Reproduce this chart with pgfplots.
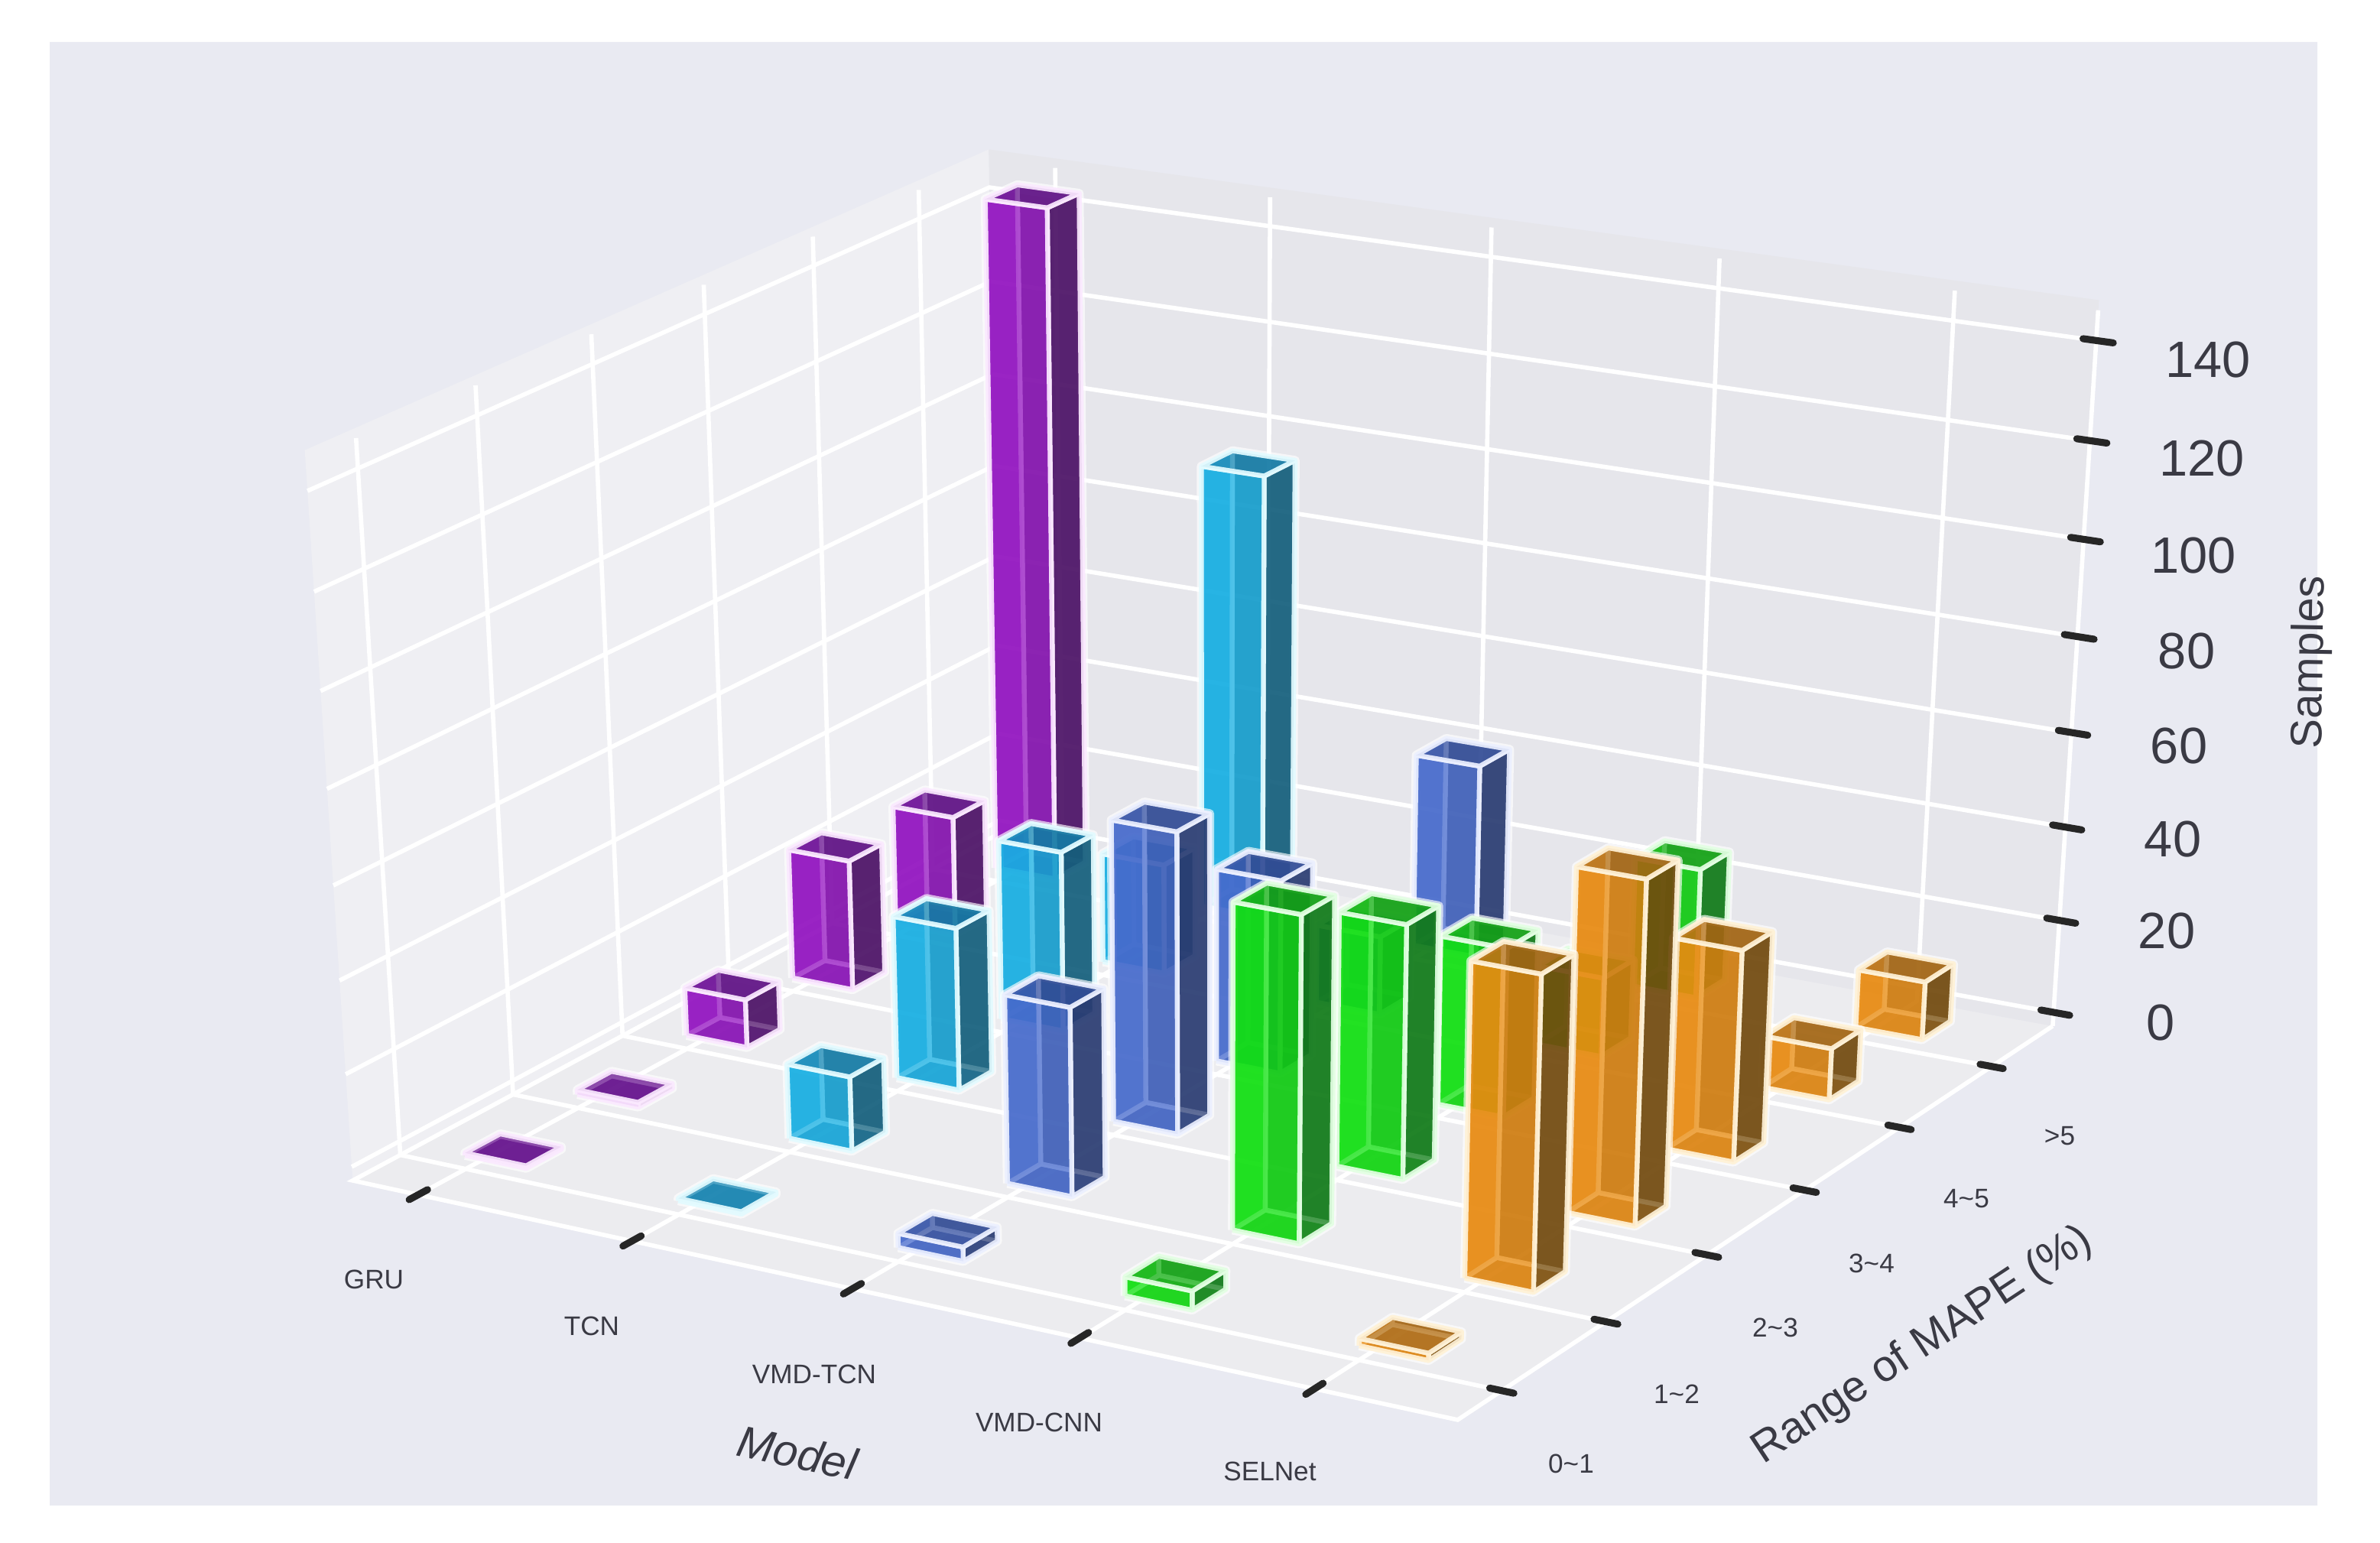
\documentclass[border=0pt]{standalone}
\usepackage{fontspec}
\setmainfont{Liberation Sans}
\usepackage{pgfplots}
\usepackage{pgfplotstable}
\pgfplotsset{compat=1.18}
% model (0..4), range of MAPE (0..5), samples; listed from far to near
\pgfplotstableread{
model range samples
0 5 146
1 5 96.5
2 5 42
3 5 28
4 5 12.5
0 4 26
1 4 24
2 4 17
3 4 17
4 4 11
0 3 28.5
1 3 39
2 3 41.5
3 3 36
4 3 44.5
0 2 10.5
1 2 35
2 2 64
3 2 53.5
4 2 71.5
0 1 1
1 1 16
2 1 40
3 1 68
4 1 65
0 0 0.5
1 0 0.5
2 0 3
3 0 4
4 0 1.5
}\bars
\definecolor{bgc}{HTML}{E9EAF2}
\definecolor{wallL}{HTML}{EFEFF3}
\definecolor{wallB}{HTML}{E6E6EB}
\definecolor{floorc}{HTML}{ECECEF}
\definecolor{txt}{HTML}{3A3A44}
\definecolor{c0f}{HTML}{9212C0}\definecolor{c0s}{HTML}{4C1266}\definecolor{c0t}{HTML}{64108C}\definecolor{c0e}{HTML}{FBEAFF}
\definecolor{c1f}{HTML}{16AEE2}\definecolor{c1s}{HTML}{145F7C}\definecolor{c1t}{HTML}{1482B0}\definecolor{c1e}{HTML}{E4FBFF}
\definecolor{c2f}{HTML}{466ACC}\definecolor{c2s}{HTML}{2A3C72}\definecolor{c2t}{HTML}{34509F}\definecolor{c2e}{HTML}{ECF0FF}
\definecolor{c3f}{HTML}{10E010}\definecolor{c3s}{HTML}{107A18}\definecolor{c3t}{HTML}{12AC12}\definecolor{c3e}{HTML}{E4FFE4}
\definecolor{c4f}{HTML}{E88A10}\definecolor{c4s}{HTML}{724A0E}\definecolor{c4t}{HTML}{B06C14}\definecolor{c4e}{HTML}{FFF2D8}
% the view: plain perspective from model, range, samples to the picture
\newcommand\pt[3]{%
 \pgfmathsetmacro\SS{.064+.2037*(#1)}%
 \pgfmathsetmacro\TT{.068+.1641*(#2)}%
 \pgfmathsetmacro\WW{1-.07414*\SS+.0912*\TT-.00035*(#3)}%
 \pgfmathsetmacro\UU{(1305.6*\SS+966.2*\TT+460-.555*(#3))/\WW}%
 \pgfmathsetmacro\VV{2018-(175.7*\SS-355.1*\TT+1526-6.539*(#3))/\WW}%
 \xdef\plist{\plist (\UU,\VV)}}
\newcommand\face[2]{%
 \gdef\plist{}%
 \foreach \a/\b/\c in {#2}{\pt{\a}{\b}{\c}}%
 \edef\tmp{\noexpand\addplot[#1] coordinates {\plist};}\tmp}
\def\Xa{-.314}\def\Xb{4.595}\def\Ya{-.414}\def\Yb{5.68}\def\Za{-3}\def\Zb{146}\def\Zp{148}
\def\dX{.29}\def\dY{.31}
\newcommand\bigf{\fontsize{19}{23}\selectfont}
\newcommand\smlf{\fontsize{10}{12}\selectfont}
\newcommand\ttlf{\fontsize{16.4}{20}\selectfont}
\pgfplotsset{
 grd/.style={draw=white,line width=1.6pt},
 tck/.style={draw=black!85,line width=2.6pt,line cap=round},
 halo/.style={draw=white,draw opacity=.65,line width=3.4pt,line join=round},
 barf/.style={line width=1.8pt,fill opacity=.72,draw opacity=.9,line join=round}}
\begin{document}
\begin{tikzpicture}
\begin{axis}[scale only axis,width=31.13cm,height=20.18cm,xmin=0,xmax=3113,ymin=0,ymax=2018,hide axis,clip=false]
\addplot[fill=white,draw=none] coordinates {(0,0)(3113,0)(3113,2018)(0,2018)(0,0)};
\addplot[fill=bgc,draw=none] coordinates {(65,49)(3031,49)(3031,1963)(65,1963)(65,49)};
% panes
\face{fill=floorc,draw=none}{\Xa/\Ya/\Za,\Xb/\Ya/\Za,\Xb/\Yb/\Za,\Xa/\Yb/\Za,\Xa/\Ya/\Za}
\face{fill=wallL,draw=none}{\Xa/\Ya/\Za,\Xa/\Yb/\Za,\Xa/\Yb/\Zp,\Xa/\Ya/\Zp,\Xa/\Ya/\Za}
\face{fill=wallB,draw=none}{\Xa/\Yb/\Za,\Xb/\Yb/\Za,\Xb/\Yb/\Zp,\Xa/\Yb/\Zp,\Xa/\Yb/\Za}
% grid
\foreach \z in {0,20,...,140}{
 \face{grd}{\Xa/\Ya/\z,\Xa/\Yb/\z,\Xb/\Yb/\z}
}
\foreach \y in {0,...,5}{
 \face{grd}{\Xa/\y/\Zb,\Xa/\y/\Za,\Xb/\y/\Za}
}
\foreach \x in {0,...,4}{
 \face{grd}{\x/\Ya/\Za,\x/\Yb/\Za,\x/\Yb/\Zb}
}
\face{grd}{\Xa/\Yb/\Za,\Xa/\Ya/\Za,\Xb/\Ya/\Za,\Xb/\Yb/\Za}
\face{grd}{\Xb/\Yb/\Za,\Xb/\Yb/\Zb}
% ticks
\pgfmathsetmacro\ta{\Xb-.055}\pgfmathsetmacro\tb{\Xb+.07}
\foreach \z in {0,20,...,140}{\face{tck}{\ta/\Yb/\z,\tb/\Yb/\z}}
\pgfmathsetmacro\ta{\Xb-.05}\pgfmathsetmacro\tb{\Xb+.05}
\foreach \y in {0,...,5}{\face{tck}{\ta/\y/\Za,\tb/\y/\Za}}
\pgfmathsetmacro\ua{\Ya-.08}\pgfmathsetmacro\ub{\Ya+.08}
\foreach \x in {0,...,4}{\face{tck}{\x/\ua/\Za,\x/\ub/\Za}}
% bars
\foreach \r in {0,...,29}{
 \pgfplotstablegetelem{\r}{model}\of\bars\xdef\ii{\pgfplotsretval}
 \pgfplotstablegetelem{\r}{range}\of\bars\xdef\jj{\pgfplotsretval}
 \pgfplotstablegetelem{\r}{samples}\of\bars\xdef\hh{\pgfplotsretval}
 \pgfmathsetmacro\xa{\ii}\pgfmathsetmacro\xb{\ii+\dX}
 \pgfmathsetmacro\ya{\jj}\pgfmathsetmacro\yb{\jj+\dY}
 \face{halo}{\xa/\ya/0,\xb/\ya/0,\xb/\yb/0,\xb/\yb/\hh,\xa/\yb/\hh,\xa/\ya/\hh,\xa/\ya/0}
 \face{barf,fill=c\ii t,draw=c\ii e}{\xa/\ya/0,\xb/\ya/0,\xb/\yb/0,\xa/\yb/0,\xa/\ya/0}
 \face{barf,fill=c\ii s,draw=c\ii e}{\xa/\yb/0,\xb/\yb/0,\xb/\yb/\hh,\xa/\yb/\hh,\xa/\yb/0}
 \face{barf,fill=c\ii f,draw=c\ii e}{\xa/\ya/0,\xa/\yb/0,\xa/\yb/\hh,\xa/\ya/\hh,\xa/\ya/0}
 \face{barf,fill=c\ii s,draw=c\ii e}{\xb/\ya/0,\xb/\yb/0,\xb/\yb/\hh,\xb/\ya/\hh,\xb/\ya/0}
 \face{barf,fill=c\ii f,draw=c\ii e}{\xa/\ya/0,\xb/\ya/0,\xb/\ya/\hh,\xa/\ya/\hh,\xa/\ya/0}
 \face{barf,fill=c\ii t,draw=c\ii e}{\xa/\ya/\hh,\xb/\ya/\hh,\xb/\yb/\hh,\xa/\yb/\hh,\xa/\ya/\hh}
}
% labels
\foreach \v/\u/\w in {140/2888/471,120/2880/600,100/2869/727,80/2860/852,60/2850/976,40/2842/1098,20/2834/1218,0/2826/1338}{
 \pgfmathsetmacro\ww{2018-\w}
 \edef\tmp{\noexpand\node[text=txt,font=\noexpand\bigf] at (axis cs:\u,\ww) {\v};}\tmp
}
\node[text=txt,font=\smlf] at (axis cs:489,345) {GRU};
\node[text=txt,font=\smlf] at (axis cs:774,284) {TCN};
\node[text=txt,font=\smlf] at (axis cs:1065,221) {VMD-TCN};
\node[text=txt,font=\smlf] at (axis cs:1359,158) {VMD-CNN};
\node[text=txt,font=\smlf] at (axis cs:1661,94) {SELNet};
\node[text=txt,font=\smlf] at (axis cs:2055,104) {0\textasciitilde 1};
\node[text=txt,font=\smlf] at (axis cs:2193,195) {1\textasciitilde 2};
\node[text=txt,font=\smlf] at (axis cs:2322,282) {2\textasciitilde 3};
\node[text=txt,font=\smlf] at (axis cs:2448,366) {3\textasciitilde 4};
\node[text=txt,font=\smlf] at (axis cs:2572,450) {4\textasciitilde 5};
\node[text=txt,font=\smlf] at (axis cs:2694,532) {>5};
\node[text=txt,font=\ttlf,rotate=33.4] at (axis cs:2515,258) {Range of MAPE (\%)};
\node[text=txt,font=\fontsize{16.5}{20}\selectfont\itshape,rotate=-12] at (axis cs:1043,118) {Model};
\node[text=txt,font=\fontsize{16.5}{20}\selectfont,rotate=89] at (axis cs:3023,1152) {Samples};
\end{axis}
\end{tikzpicture}
\end{document}
